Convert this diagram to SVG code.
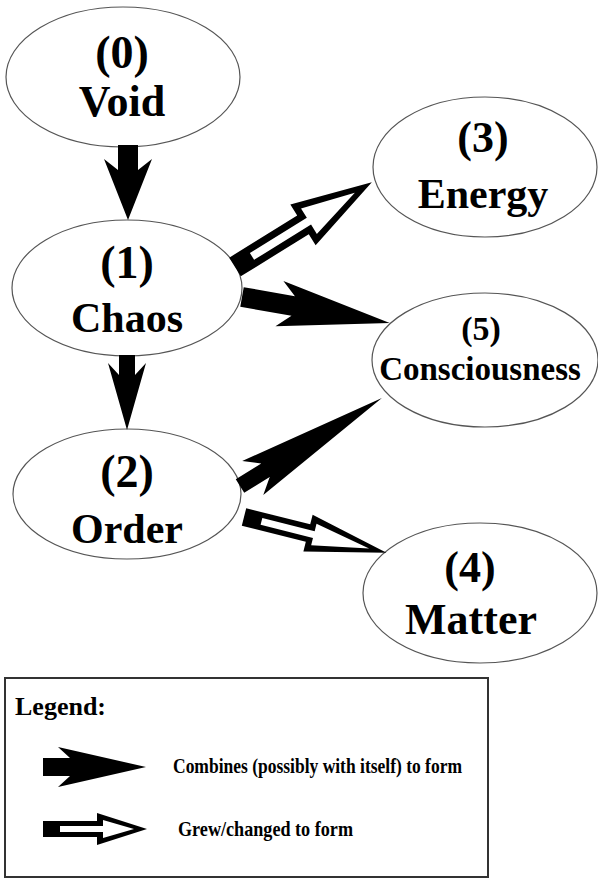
<svg xmlns="http://www.w3.org/2000/svg" width="598" height="879" viewBox="0 0 598 879">
  <style>
    .node ellipse { fill: #ffffff; stroke: #555555; stroke-width: 1.2; }
    .lbl { font-family: "Liberation Serif", "DejaVu Serif", serif; font-weight: bold; fill: #000000; text-anchor: middle; }
    .comb { fill: #000000; stroke: none; }
    .grow-out { fill: #000000; stroke: none; }
    .grow-in { fill: #ffffff; stroke: none; }
    .legtxt { font-family: "Liberation Serif", "DejaVu Serif", serif; font-weight: bold; fill: #000000; }
  </style>
  <rect x="0" y="0" width="598" height="879" fill="#ffffff"/>

  <g id="node-void" class="node">
    <ellipse cx="123" cy="77" rx="117" ry="70"/>
    <text class="lbl" x="122" y="68" font-size="46">(0)</text>
    <text class="lbl" x="122" y="116" font-size="44">Void</text>
  </g>
  <g id="node-chaos" class="node">
    <ellipse cx="127" cy="288" rx="115" ry="68"/>
    <text class="lbl" x="127" y="278" font-size="46">(1)</text>
    <text class="lbl" x="127" y="332" font-size="42">Chaos</text>
  </g>
  <g id="node-order" class="node">
    <ellipse cx="127" cy="494" rx="114" ry="65"/>
    <text class="lbl" x="127" y="487" font-size="46">(2)</text>
    <text class="lbl" x="127" y="543" font-size="42">Order</text>
  </g>
  <g id="node-energy" class="node">
    <ellipse cx="485" cy="167" rx="112" ry="70"/>
    <text class="lbl" x="483" y="152" font-size="44">(3)</text>
    <text class="lbl" x="483" y="208" font-size="42">Energy</text>
  </g>
  <g id="node-consciousness" class="node">
    <ellipse cx="485" cy="360" rx="113" ry="67"/>
    <text class="lbl" x="481" y="340" font-size="34">(5)</text>
    <text class="lbl" x="480" y="380" font-size="33">Consciousness</text>
  </g>
  <g id="node-matter" class="node">
    <ellipse cx="480" cy="593" rx="117" ry="70"/>
    <text class="lbl" x="470" y="582" font-size="44">(4)</text>
    <text class="lbl" x="471" y="634" font-size="44">Matter</text>
  </g>

  <g id="connectors">
    <!-- Void -> Chaos (combines) -->
    <path class="comb" transform="translate(128,145) rotate(90)" d="M0,-10 L25,-10 L14,-24 L75,0 L14,24 L25,10 L0,10 Z"/>
    <!-- Chaos -> Order (combines) -->
    <path class="comb" transform="translate(127,355) rotate(90)" d="M0,-8 L20,-8 L8,-19 L75,0 L8,19 L20,8 L0,8 Z"/>
    <!-- Chaos -> Consciousness (combines) -->
    <path class="comb" transform="translate(242,297) rotate(9.96)" d="M0,-10 L52,-10 L38,-23 L150,0 L38,23 L52,10 L0,10 Z"/>
    <!-- Order -> Consciousness (combines) -->
    <path class="comb" transform="translate(240,486) rotate(-31.8)" d="M0,-8 L30,-8 L15,-20 L167,0 L15,20 L30,8 L0,8 Z"/>
    <!-- Chaos -> Energy (grew) -->
    <g transform="translate(235,267) rotate(-31.8)">
      <path class="grow-out" d="M0,-11 L80,-11 L80,-24 L161,0 L80,24 L80,11 L0,11 Z"/>
      <path class="grow-in" d="M20,-4 L87,-4 L87,-15 L141,0 L87,15 L87,4 L20,4 Z"/>
    </g>
    <!-- Order -> Matter (grew) -->
    <g transform="translate(244,517) rotate(14.1)">
      <path class="grow-out" d="M0,-9 L66,-9 L66,-19 L147,0 L66,19 L66,9 L0,9 Z"/>
      <path class="grow-in" d="M18,-3.5 L72,-3.5 L72,-11 L129,0 L72,11 L72,3.5 L18,3.5 Z"/>
    </g>
  </g>

  <g id="legend">
    <rect x="5" y="678" width="483" height="199" fill="none" stroke="#333333" stroke-width="2"/>
    <text class="legtxt" x="15" y="715" font-size="26">Legend:</text>
    <path class="comb" d="M43,758 L70,758 L58,747 L146,767 L58,787 L70,776 L43,776 Z"/>
    <text class="legtxt" x="173" y="773" font-size="21" textLength="289" lengthAdjust="spacingAndGlyphs">Combines (possibly with itself) to form</text>
    <path class="grow-out" d="M43,821 L97,821 L97,813 L147,829 L97,845 L97,837 L43,837 Z"/>
    <path class="grow-in" d="M60,826 L103,826 L103,820 L134,829 L103,838 L103,832 L60,832 Z"/>
    <text class="legtxt" x="178" y="836" font-size="21" textLength="175" lengthAdjust="spacingAndGlyphs">Grew/changed to form</text>
  </g>
</svg>
